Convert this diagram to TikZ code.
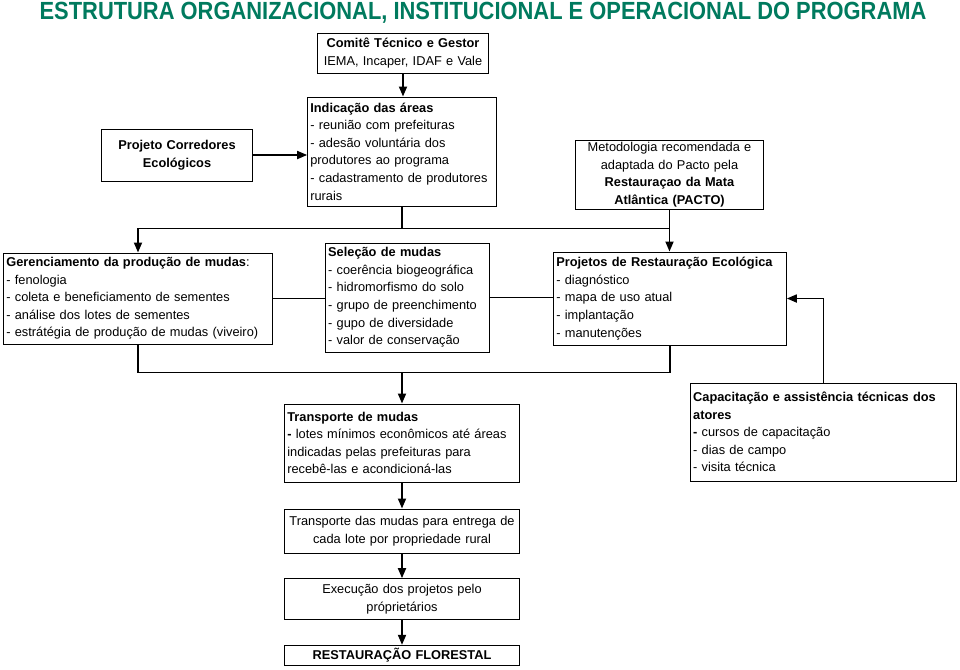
\documentclass[tikz,border=0pt]{standalone}
\usepackage{fontspec}
\setmainfont{Liberation Sans}
\usepackage{graphicx}
\usetikzlibrary{positioning}
\usetikzlibrary{calc}
\usetikzlibrary{arrows.meta}
\definecolor{verdetitulo}{RGB}{0,122,94}

\begin{document}
\begin{tikzpicture}[x=0.75pt, y=-0.75pt,
            caixa/.style={draw, line width=0.75pt, inner xsep=2pt, inner ysep=1pt, font={\fontsize{9.6pt}{13.2pt}\selectfont\hyphenpenalty=10000\exhyphenpenalty=10000}},
            seta/.style={black, line width=1.3pt, -{Triangle[length=7.5pt, width=6pt]}},
            ligacao/.style={black, line width=1.3pt},
            fina/.style={black, line width=0.75pt}]
            \useasboundingbox (0,0) rectangle (960,669);
            \node[anchor=base, inner sep=0pt, text=verdetitulo, font=\bfseries] (titulo) at (483,19) {\resizebox{665pt}{13pt}{ESTRUTURA ORGANIZACIONAL, INSTITUCIONAL E OPERACIONAL DO PROGRAMA}};

            \node[caixa, text width=124pt, align=center, minimum height=30pt] (comite) at (403,53) {\textbf{Comitê Técnico e Gestor}\\IEMA, Incaper, IDAF e Vale};
            \node[caixa, text width=137.5pt, align=left, minimum height=81.75pt] (indic) at (402,151.5) {\textbf{Indicação das áreas}\\- reunião com prefeituras\\- adesão voluntária dos\\produtores ao programa\\- cadastramento de produtores\\rurais};
            \node[caixa, text width=109pt, align=center, minimum height=39pt] (projeto) at (177,155) {\textbf{Projeto Corredores}\\\textbf{Ecológicos}};
            \node[caixa, text width=137pt, align=center, minimum height=51.75pt] (metod) at (669.5,174.5) {Metodologia recomendada e\\adaptada do Pacto pela\\\textbf{Restauraçao da Mata}\\\textbf{Atlântica (PACTO)}};

            \node[caixa, text width=197.5pt, align=left, minimum height=68.25pt] (geren) at (138,298.5) {\textbf{Gerenciamento da produção de mudas}:\\- fenologia\\- coleta e beneficiamento de sementes\\- análise dos lotes de sementes\\- estrátégia de produção de mudas (viveiro)};
            \node[caixa, text width=119pt, align=left, minimum height=81.75pt] (selec) at (407.5,297.5) {\textbf{Seleção de mudas}\\- coerência biogeográfica\\- hidromorfismo do solo\\- grupo de preenchimento\\- gupo de diversidade\\- valor de conservação};
            \node[caixa, text width=170.5pt, align=left, minimum height=69.75pt] (projr) at (670,298.5) {\textbf{Projetos de Restauração Ecológica}\\- diagnóstico\\- mapa de uso atual\\- implantação\\- manutenções};

            \node[caixa, text width=172pt, align=left, minimum height=58.5pt] (transp) at (402,443) {\textbf{Transporte de mudas}\\\textbf{-} lotes mínimos econômicos até áreas\\indicadas pelas prefeituras para\\recebê-las e acondicioná-las};
            \node[caixa, text width=195.5pt, align=left, minimum height=73.5pt] (capac) at (823.5,432) {\textbf{Capacitação e assistência técnicas dos}\\\textbf{atores}\\\textbf{-} cursos de capacitação\\- dias de campo\\- visita técnica};
            \node[caixa, text width=172pt, align=center, minimum height=33pt, below=19.5pt of transp] (entrega) {Transporte das mudas para entrega de\\cada lote por propriedade rural};
            \node[caixa, text width=172pt, align=center, minimum height=30.75pt, below=18.5pt of entrega] (exec) {Execução dos projetos pelo\\próprietários};
            \node[caixa, text width=172pt, align=center, minimum height=15pt, below=18.5pt of exec] (rest) {\textbf{RESTAURAÇÃO FLORESTAL}};

            \path (indic.south) ++(0,22) coordinate (j1);
            \path (transp.north) ++(0,-31) coordinate (j2);

            \draw[seta] (comite.south) -- (comite.south |- indic.north);
            \draw[seta] (projeto.east) -- (projeto.east -| indic.west);
            \draw[ligacao] (indic.south) -- (j1);
            \draw[ligacao] (j1) -- (j1 -| metod.south);
            \draw[seta] (j1) -| (geren.north);
            \draw[seta] (metod.south) -- (metod.south |- projr.north);
            \draw[fina] (geren.east) -- (geren.east -| selec.west);
            \draw[fina] (selec.east) -- (selec.east -| projr.west);
            \draw[seta] (capac.north) |- (projr.east);
            \draw[ligacao] (geren.south) |- (j2) -| (projr.south);
            \draw[seta] (j2) -- (transp.north);
            \draw[seta] (transp) -- (entrega);
            \draw[seta] (entrega) -- (exec);
            \draw[seta] (exec) -- (rest);
        \end{tikzpicture}
\end{document}
